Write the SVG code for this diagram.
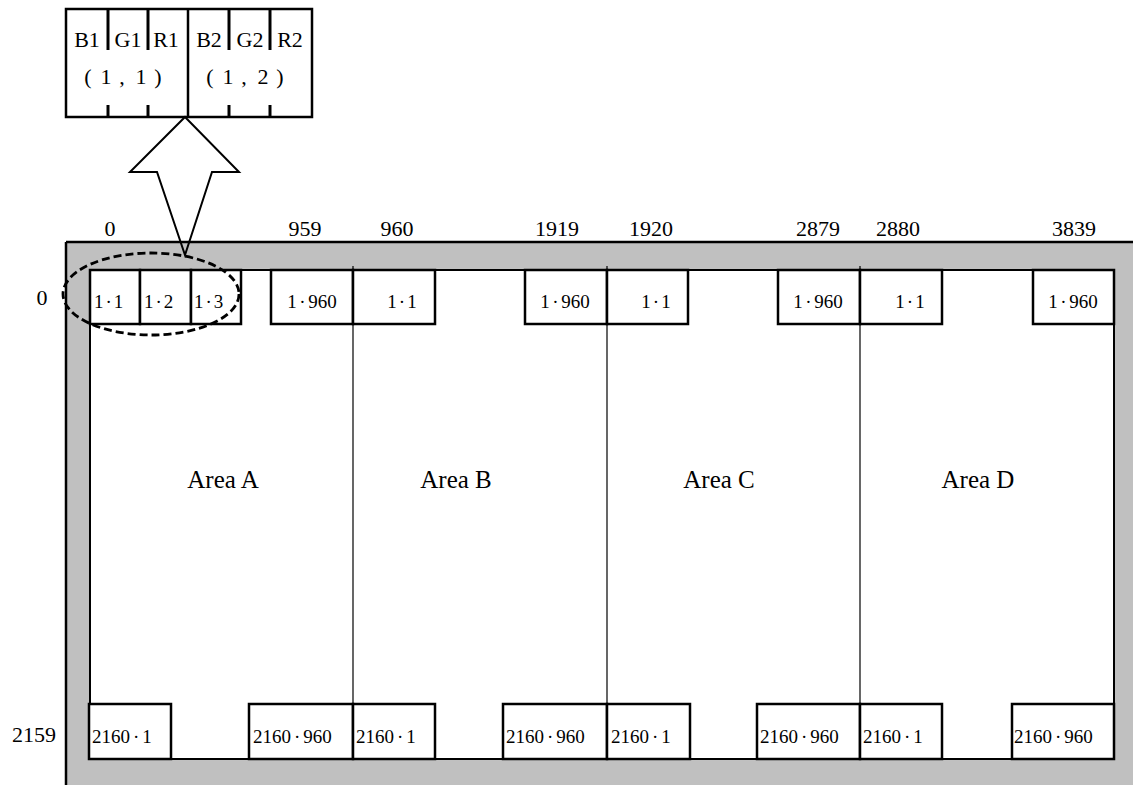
<svg xmlns="http://www.w3.org/2000/svg" width="1133" height="785" viewBox="0 0 1133 785">
<style>
text{font-family:"Liberation Serif","Noto Sans CJK JP",serif;fill:#000}
.num{font-size:22px;text-anchor:middle}
.lbl{font-size:19px}
.c{text-anchor:middle}
.area{font-size:25px;text-anchor:middle}
.ch{font-size:22px;text-anchor:middle}
.box{fill:#fff;stroke:#000;stroke-width:2.5}
.thin{stroke:#000;stroke-width:1.2;fill:none}
</style>
<rect width="1133" height="785" fill="#fff"/>
<g id="frame">
<rect x="66" y="242" width="1067" height="543" fill="#c0c0c0"/>
<line x1="66" y1="242" x2="1133" y2="242" stroke="#000" stroke-width="2.5"/>
<line x1="66" y1="242" x2="66" y2="785" stroke="#000" stroke-width="2.5"/>
<rect x="90" y="270" width="1024" height="489" fill="#fff" stroke="#000" stroke-width="2"/>
<line class="thin" x1="353" y1="266" x2="353" y2="759"/>
<line class="thin" x1="607" y1="266" x2="607" y2="759"/>
<line class="thin" x1="860" y1="266" x2="860" y2="759"/>
</g>
<g id="col-labels">
<text class="num" x="110" y="236">0</text>
<text class="num" x="305" y="236">959</text>
<text class="num" x="397" y="236">960</text>
<text class="num" x="557" y="236">1919</text>
<text class="num" x="651" y="236">1920</text>
<text class="num" x="818" y="236">2879</text>
<text class="num" x="898" y="236">2880</text>
<text class="num" x="1074" y="236">3839</text>
<text class="num" x="42" y="305">0</text>
<text class="num" x="34" y="742">2159</text>
</g>
<g id="areas">
<text class="area" x="223" y="488">Area A</text>
<text class="area" x="456" y="488">Area B</text>
<text class="area" x="719" y="488">Area C</text>
<text class="area" x="978" y="488">Area D</text>
</g>
<g id="top-cells">
<rect class="box" x="90" y="270" width="50" height="54"/>
<text class="lbl" x="94" y="308">1<tspan dx="2">·</tspan><tspan dx="2">1</tspan></text>
<rect class="box" x="140" y="270" width="51" height="54"/>
<text class="lbl" x="144" y="308">1<tspan dx="2">·</tspan><tspan dx="2">2</tspan></text>
<rect class="box" x="191" y="270" width="50" height="54"/>
<text class="lbl" x="194" y="308">1<tspan dx="2">·</tspan><tspan dx="2">3</tspan></text>
<rect class="box" x="271" y="270" width="82" height="54"/>
<text class="lbl c" x="312" y="308">1<tspan dx="2.5">·</tspan><tspan dx="2.5">960</tspan></text>
<rect class="box" x="353" y="270" width="82" height="54"/>
<text class="lbl c" x="402" y="308">1<tspan dx="2">·</tspan><tspan dx="2">1</tspan></text>
<rect class="box" x="525" y="270" width="82" height="54"/>
<text class="lbl c" x="565" y="308">1<tspan dx="2.5">·</tspan><tspan dx="2.5">960</tspan></text>
<rect class="box" x="607" y="270" width="81" height="54"/>
<text class="lbl c" x="656" y="308">1<tspan dx="2">·</tspan><tspan dx="2">1</tspan></text>
<rect class="box" x="778" y="270" width="82" height="54"/>
<text class="lbl c" x="818" y="308">1<tspan dx="2.5">·</tspan><tspan dx="2.5">960</tspan></text>
<rect class="box" x="860" y="270" width="82" height="54"/>
<text class="lbl c" x="910" y="308">1<tspan dx="2">·</tspan><tspan dx="2">1</tspan></text>
<rect class="box" x="1033" y="270" width="81" height="54"/>
<text class="lbl c" x="1073" y="308">1<tspan dx="2.5">·</tspan><tspan dx="2.5">960</tspan></text>
</g>
<g id="bottom-cells">
<rect class="box" x="89" y="704" width="82" height="55"/>
<text class="lbl" x="92" y="743">2160<tspan dx="3">·</tspan><tspan dx="3">1</tspan></text>
<rect class="box" x="249" y="704" width="104" height="55"/>
<text class="lbl" x="253" y="743">2160<tspan dx="3">·</tspan><tspan dx="3">960</tspan></text>
<rect class="box" x="353" y="704" width="82" height="55"/>
<text class="lbl" x="356" y="743">2160<tspan dx="3">·</tspan><tspan dx="3">1</tspan></text>
<rect class="box" x="503" y="704" width="104" height="55"/>
<text class="lbl" x="506" y="743">2160<tspan dx="3">·</tspan><tspan dx="3">960</tspan></text>
<rect class="box" x="607" y="704" width="83" height="55"/>
<text class="lbl" x="611" y="743">2160<tspan dx="3">·</tspan><tspan dx="3">1</tspan></text>
<rect class="box" x="757" y="704" width="103" height="55"/>
<text class="lbl" x="760" y="743">2160<tspan dx="3">·</tspan><tspan dx="3">960</tspan></text>
<rect class="box" x="860" y="704" width="82" height="55"/>
<text class="lbl" x="863" y="743">2160<tspan dx="3">·</tspan><tspan dx="3">1</tspan></text>
<rect class="box" x="1012" y="704" width="102" height="55"/>
<text class="lbl" x="1014" y="743">2160<tspan dx="3">·</tspan><tspan dx="3">960</tspan></text>
</g>
<g id="inset">
<rect x="66" y="9" width="246" height="108" fill="#fff" stroke="#000" stroke-width="2.5"/>
<line x1="188" y1="9" x2="188" y2="117" stroke="#000" stroke-width="2.5"/>
<g stroke="#000" stroke-width="3">
<line x1="108" y1="9" x2="108" y2="50"/>
<line x1="148" y1="9" x2="148" y2="50"/>
<line x1="229" y1="9" x2="229" y2="50"/>
<line x1="270" y1="9" x2="270" y2="50"/>
<line x1="108" y1="105" x2="108" y2="117"/>
<line x1="148" y1="105" x2="148" y2="117"/>
<line x1="229" y1="105" x2="229" y2="117"/>
<line x1="270" y1="105" x2="270" y2="117"/>
</g>
<text class="ch" x="87" y="47">B1</text>
<text class="ch" x="128" y="47">G1</text>
<text class="ch" x="166" y="47">R1</text>
<text class="ch" x="209" y="47">B2</text>
<text class="ch" x="250" y="47">G2</text>
<text class="ch" x="290" y="47">R2</text>
<text class="ch" x="88 106 122 130 141 158" y="84">(1, 1)</text>
<text class="ch" x="210 228 244 252 263 280" y="84">(1, 2)</text>
</g>
<g id="connectors">
<polygon points="185,117 239,172 212,172 185,255 157,172 130,172" fill="none" stroke="#000" stroke-width="2" stroke-linejoin="miter"/>
<ellipse cx="151" cy="294" rx="88" ry="41" fill="none" stroke="#000" stroke-width="2.8" stroke-dasharray="8,4"/>
</g>
</svg>
